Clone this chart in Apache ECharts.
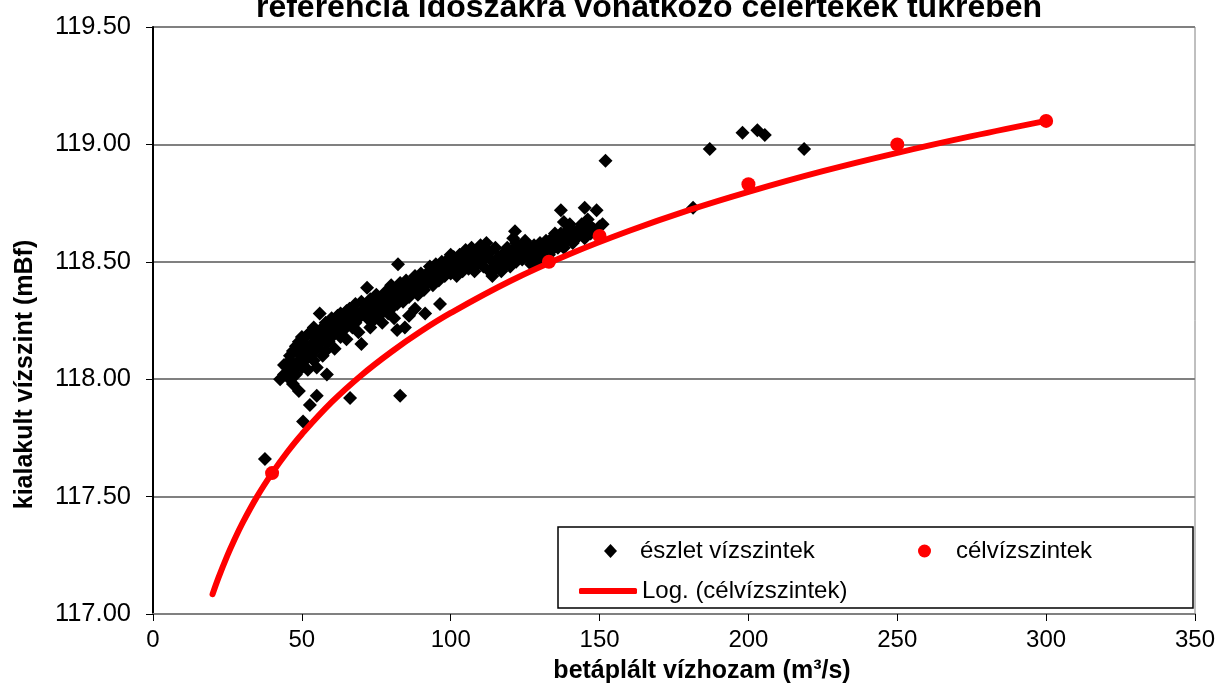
<!DOCTYPE html>
<html>
<head>
<meta charset="utf-8">
<script src="https://cdn.jsdelivr.net/npm/echarts@6/dist/echarts.min.js"></script>
<style>
  html, body { margin: 0; padding: 0; background: #fff; }
  #chart { width: 1220px; height: 689px; }
</style>
</head>
<body>
<div id="chart"></div>
<script>
// measured water levels (flow m3/s, level mBf)
var observed = [
  [37.6,117.66],[42.7,118.00],[45.5,118.02],[47,117.98],[49,117.95],[50.4,117.82],[52.7,117.89],[55,117.93],
  [58.4,118.02],[66.2,117.92],[83,117.93],[82.3,118.49],[152,118.93],[187,118.98],[198,119.05],[203,119.06],
  [205.5,119.04],[218.7,118.98],[181.4,118.73],[137,118.72],[145,118.73],[149,118.72],[151,118.66],[146,118.68],
  [44,118.02],[44,118.06],[45,118.05],[46,118.00],[46,118.08],[46,118.10],[47,118.04],[47,118.12],
  [48,118.06],[48,118.02],[48,118.14],[49,118.08],[49,118.11],[49,118.16],[50,118.05],[50,118.12],[50,118.18],
  [51,118.10],[51,118.15],[51,118.08],[52,118.12],[52,118.19],[52,118.04],[53,118.14],[53,118.10],[53,118.20],
  [54,118.16],[54,118.08],[54,118.22],[55,118.13],[55,118.18],[55,118.05],[56,118.20],[56,118.28],[56,118.15],
  [57,118.17],[57,118.22],[57,118.10],[58,118.19],[58,118.24],[58,118.12],[59,118.21],[59,118.16],
  [60,118.23],[60,118.18],[60,118.26],[61,118.20],[61,118.25],[61,118.13],[62,118.22],[62,118.27],
  [63,118.24],[63,118.18],[63,118.28],[64,118.26],[64,118.21],[65,118.23],[65,118.29],[65,118.17],
  [66,118.25],[66,118.30],[67,118.27],[67,118.22],[68,118.29],[68,118.24],[68,118.32],[69,118.26],[69,118.20],
  [70,118.28],[70,118.33],[70,118.15],[71,118.30],[71.9,118.39],[72,118.26],[72,118.31],
  [73,118.28],[73,118.34],[73,118.22],[74,118.30],[74,118.25],[75,118.32],[75,118.36],[76,118.27],[76,118.33],
  [77,118.35],[77,118.29],[77,118.24],[78,118.31],[78,118.37],[79,118.33],[79,118.28],
  [80,118.36],[80,118.40],[80,118.30],[81,118.34],[81,118.26],[82,118.38],[82,118.32],[82,118.21],
  [83,118.36],[83,118.41],[84,118.33],[84,118.39],[84.6,118.22],[85,118.38],[85,118.42],
  [86,118.35],[86,118.40],[86,118.27],[87,118.41],[87,118.37],[88,118.39],[88,118.44],[88,118.30],
  [89,118.42],[89,118.36],[90,118.40],[90,118.45],[91,118.43],[91,118.38],[91.4,118.28],[92,118.45],[92,118.41],
  [93,118.43],[93,118.48],[94,118.46],[94,118.40],[95,118.44],[95,118.49],[96,118.47],[96,118.42],[96.4,118.32],
  [97,118.45],[97,118.50],[98,118.48],[98,118.44],[99,118.46],[99,118.51],
  [100,118.49],[100,118.45],[100,118.53],[101,118.47],[101,118.52],[102,118.50],[102,118.44],
  [103,118.48],[103,118.53],[104,118.51],[104,118.46],[105,118.49],[105,118.55],[105,118.52],
  [106,118.47],[106,118.53],[107,118.50],[107,118.56],[108,118.52],[108,118.46],[109,118.54],[109,118.49],
  [110,118.51],[110,118.57],[111,118.55],[111,118.48],[112,118.52],[112,118.58],[113,118.46],[113,118.54],
  [114,118.44],[114,118.50],[115,118.47],[115,118.56],[116,118.49],[116,118.52],[117,118.51],[117,118.46],
  [118,118.48],[118,118.54],[119,118.50],[119,118.56],[120,118.52],[120,118.48],[121,118.55],[121,118.60],
  [122,118.50],[122,118.58],[121.6,118.63],[123,118.53],[124,118.56],[124,118.51],[125,118.54],[125,118.59],
  [126,118.52],[126,118.57],[127,118.55],[127,118.49],[128,118.57],[128,118.53],[129,118.55],[129,118.50],
  [130,118.58],[130,118.54],[131,118.52],[131,118.56],[132,118.59],[132,118.55],[133,118.57],[133,118.53],
  [134,118.60],[134,118.55],[135,118.58],[135,118.62],[136,118.56],[136,118.60],[137,118.62],[137,118.58],
  [138,118.60],[138,118.56],[138,118.67],[139,118.63],[139,118.59],[140,118.61],[140,118.66],
  [141,118.58],[141,118.63],[142,118.62],[142,118.60],[143,118.64],[143,118.61],[144,118.62],[144,118.66],
  [145,118.64],[145,118.60],[146,118.63],[147,118.65],[147,118.62],[148,118.64],[150,118.65]
];

// target levels
var targetFlow = [40, 133, 150, 200, 250, 300];
var targetLevel = [117.60, 118.50, 118.61, 118.83, 119.00, 119.10];

// logarithmic trend line
var trendFlow = [20, 22, 25, 27, 30, 35, 40, 45, 50, 60, 70, 80, 90, 100, 120, 140, 160, 180, 200, 225, 250, 275, 300];
var trendLevel = [117.084, 117.155, 117.250, 117.307, 117.386, 117.501, 117.600, 117.688, 117.766,
                  117.902, 118.017, 118.116, 118.204, 118.282, 118.418, 118.533, 118.632, 118.720,
                  118.798, 118.886, 118.964, 119.035, 119.100];

var xTicks = [0, 50, 100, 150, 200, 250, 300, 350];
var yTicks = [117.0, 117.5, 118.0, 118.5, 119.0, 119.5];

var FONT = 'Liberation Sans, Arial, sans-serif';

function zip(a, b) {
    return a.map(function (v, i) { return [v, b[i]]; });
}

var chart = echarts.init(document.getElementById('chart'), null, { renderer: 'canvas' });

var options = {
    animation: false,
    backgroundColor: '#fff',

    title: {
        text: 'referencia időszakra vonatkozó célértékek tükrében',
        left: 649,
        top: -8,
        padding: 0,
        textAlign: 'center',
        textStyle: { fontFamily: FONT, fontSize: 32, fontWeight: 'bold', color: '#000' }
    },

    grid: {
        left: 153,
        right: 25,
        top: 27,
        bottom: 72,
        show: true,
        borderColor: '#808080',
        borderWidth: 1
    },

    // legend box
    graphic: [{
        type: 'rect',
        shape: { x: 558, y: 527, width: 635, height: 81 },
        style: { fill: '#fff', stroke: '#000', lineWidth: 1.5 },
        z: 5
    }],

    legend: [{
        data: [{ name: 'észlet vízszintek', icon: 'diamond' }],
        left: 604, top: 539, padding: 0,
        itemWidth: 13, itemHeight: 14,
        textStyle: { fontFamily: FONT, fontSize: 24, color: '#000', padding: [0, 0, 0, 18] },
        z: 10
    }, {
        data: [{ name: 'célvízszintek', icon: 'circle' }],
        left: 918, top: 539, padding: 0,
        itemWidth: 13, itemHeight: 13,
        textStyle: { fontFamily: FONT, fontSize: 24, color: '#000', padding: [0, 0, 0, 20] },
        z: 10
    }, {
        data: [{ name: 'Log. (célvízszintek)', icon: 'roundRect' }],
        left: 579, top: 579, padding: 0,
        itemWidth: 58, itemHeight: 6,
        textStyle: { fontFamily: FONT, fontSize: 24, color: '#000' },
        z: 10
    }],

    xAxis: {
        type: 'value',
        min: 0,
        max: 350,
        interval: 50,
        name: 'betáplált vízhozam (m³/s)',
        nameLocation: 'middle',
        nameGap: 45,
        nameTextStyle: { fontFamily: FONT, fontSize: 25, fontWeight: 'bold', color: '#000', padding: [0, 0, 0, 56] },
        axisLine: { show: true, onZero: false, lineStyle: { color: '#808080', width: 2 } },
        axisTick: { show: true, inside: false, length: 7, lineStyle: { color: '#000' } },
        axisLabel: {
            fontFamily: FONT, fontSize: 24, color: '#000', margin: 14,
            formatter: function (v) { return xTicks.indexOf(v) >= 0 ? String(v) : ''; }
        },
        splitLine: { show: false }
    },

    yAxis: {
        type: 'value',
        min: 117,
        max: 119.5,
        interval: 0.5,
        name: 'kialakult vízszint (mBf)',
        nameLocation: 'middle',
        nameGap: 115,
        nameTextStyle: { fontFamily: FONT, fontSize: 25, fontWeight: 'bold', color: '#000', padding: [0, 108, 0, 0] },
        axisLine: { show: true, lineStyle: { color: '#000', width: 2 } },
        axisTick: { show: true, inside: false, length: 7, lineStyle: { color: '#000' } },
        axisLabel: {
            fontFamily: FONT, fontSize: 25.5, color: '#000', margin: 22,
            formatter: function (v) { return v.toFixed(2); }
        },
        splitLine: { show: true, lineStyle: { color: '#808080', width: 2 } }
    },

    series: [{
        name: 'észlet vízszintek',
        type: 'scatter',
        symbol: 'diamond',
        symbolSize: [14, 14],
        itemStyle: { color: '#000', opacity: 1 },
        data: observed,
        z: 2
    }, {
        name: 'célvízszintek',
        type: 'scatter',
        symbol: 'circle',
        symbolSize: 14,
        itemStyle: { color: '#ff0000', opacity: 1 },
        data: zip(targetFlow, targetLevel),
        z: 3
    }, {
        name: 'Log. (célvízszintek)',
        type: 'line',
        smooth: 0.4,
        symbol: 'none',
        lineStyle: { color: '#ff0000', width: 6, cap: 'round' },
        itemStyle: { color: '#ff0000' },
        data: zip(trendFlow, trendLevel),
        z: 4
    }]
};

chart.setOption(options);
</script>
</body>
</html>
